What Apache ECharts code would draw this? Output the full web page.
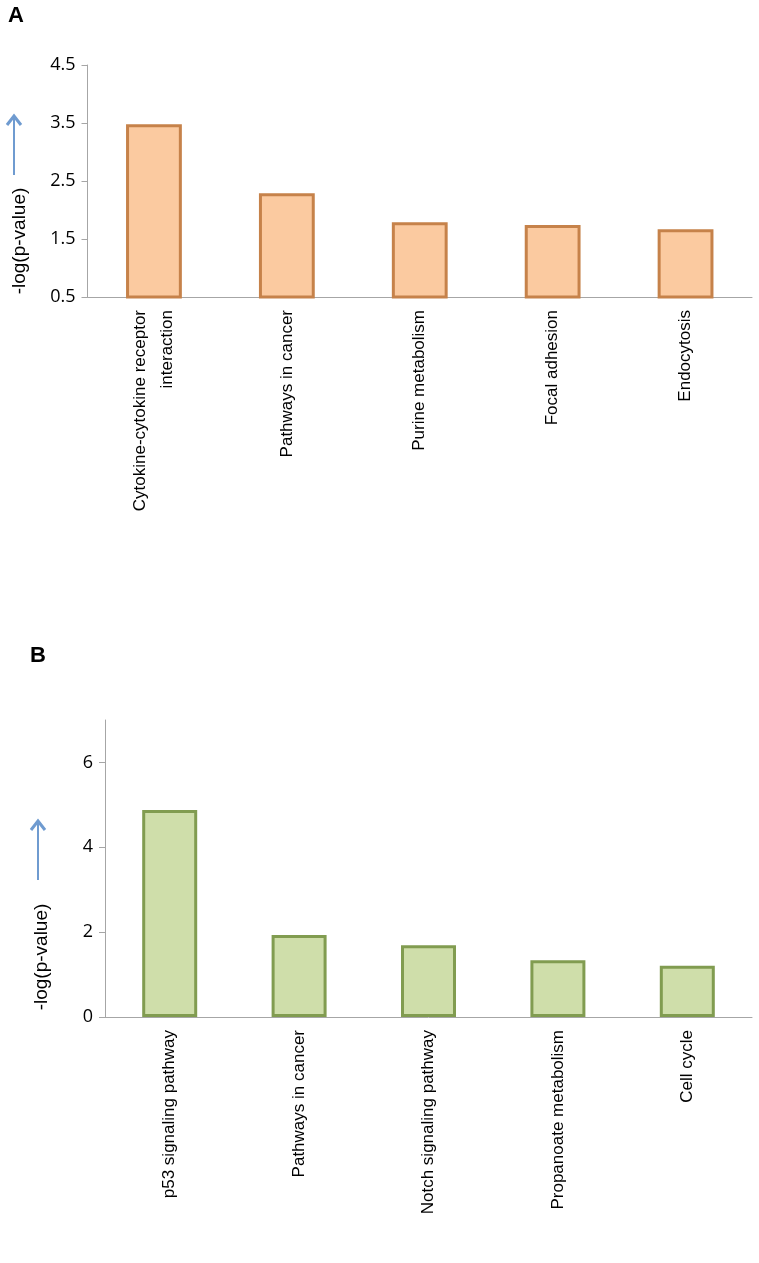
<!DOCTYPE html>
<html>
<head>
<meta charset="utf-8">
<script src="https://cdn.jsdelivr.net/npm/echarts@6/dist/echarts.min.js"></script>
<style>
html,body{margin:0;padding:0;background:#fff;}
#chart{width:759px;height:1263px;}
</style>
</head>
<body>
<div id="chart"></div>
<script>
// Panel A data
const catsA = ['Cytokine-cytokine receptor\ninteraction', 'Pathways in cancer', 'Purine metabolism', 'Focal adhesion', 'Endocytosis'];
const valsA = [3.48, 2.29, 1.79, 1.74, 1.67];
const ticksA = [0.5, 1.5, 2.5, 3.5, 4.5];
// Panel B data
const catsB = ['p53 signaling pathway', 'Pathways in cancer', 'Notch signaling pathway', 'Propanoate metabolism', 'Cell cycle'];
const valsB = [4.88, 1.93, 1.69, 1.34, 1.21];
const ticksB = [0, 2, 4, 6];
const yLabel = '-log(p-value)';

const chart = echarts.init(document.getElementById('chart'), null, {renderer: 'canvas'});
const axisGray = '#a6a6a6';
const arrowBlue = '#6f9bd0';

function yAxisCfg(gridIndex, min, max, ticks) {
  return {
    type: 'value', gridIndex, min, max,
    axisLine: {show: true, lineStyle: {color: axisGray, width: 1}},
    axisTick: {show: true, length: 6, inside: false, customValues: ticks, lineStyle: {color: axisGray}},
    axisLabel: {customValues: ticks, fontFamily: 'Open Sans, Noto Sans, sans-serif', fontSize: 18, color: '#000', margin: 12},
    splitLine: {show: false}
  };
}
function xAxisCfg(gridIndex, cats) {
  return {
    type: 'category', gridIndex, data: cats,
    axisLine: {show: true, lineStyle: {color: axisGray, width: 1}},
    axisTick: {show: false},
    axisLabel: {rotate: 90, interval: 0, fontFamily: 'Liberation Sans, Arial, sans-serif', fontSize: 17, color: '#000', margin: 13, lineHeight: 27}
  };
}
function arrow(x, yTop, yBottom) {
  return [
    {type: 'line', shape: {x1: x, y1: yBottom, x2: x, y2: yTop + 2}, style: {stroke: arrowBlue, lineWidth: 2}},
    {type: 'polyline', shape: {points: [[x - 7, yTop + 10], [x, yTop + 1], [x + 7, yTop + 10]]}, style: {stroke: arrowBlue, lineWidth: 3, fill: null}}
  ];
}

const option = {
  backgroundColor: '#fff',
  animation: false,
  grid: [
    {left: 87.5, right: 7, top: 65, bottom: 1263 - 297},
    {left: 105, right: 7, top: 720, bottom: 1263 - 1017}
  ],
  xAxis: [xAxisCfg(0, catsA), xAxisCfg(1, catsB)],
  yAxis: [yAxisCfg(0, 0.5, 4.5, ticksA), yAxisCfg(1, 0, 7, ticksB)],
  series: [
    {type: 'bar', xAxisIndex: 0, yAxisIndex: 0, data: valsA, barWidth: '42%',
      itemStyle: {color: '#fbcaa0', borderColor: '#c6824a', borderWidth: 3}},
    {type: 'bar', xAxisIndex: 1, yAxisIndex: 1, data: valsB, barWidth: '42.5%',
      itemStyle: {color: '#cfdeaa', borderColor: '#819c50', borderWidth: 3}}
  ],
  graphic: [
    {type: 'text', left: 8, top: 5, style: {text: 'A', font: 'bold 22px Liberation Sans, Arial, sans-serif', fill: '#000'}},
    {type: 'text', left: 30, top: 645, style: {text: 'B', font: 'bold 22px Liberation Sans, Arial, sans-serif', fill: '#000'}},
    {type: 'text', x: 20, y: 241, rotation: Math.PI / 2,
      style: {text: yLabel, font: '19px Liberation Sans, Arial, sans-serif', fill: '#000', align: 'center', verticalAlign: 'middle'}},
    {type: 'text', x: 42, y: 957, rotation: Math.PI / 2,
      style: {text: yLabel, font: '19px Liberation Sans, Arial, sans-serif', fill: '#000', align: 'center', verticalAlign: 'middle'}},
    ...arrow(14, 115, 175),
    ...arrow(38, 820, 880)
  ]
};
chart.setOption(option);
</script>
</body>
</html>
